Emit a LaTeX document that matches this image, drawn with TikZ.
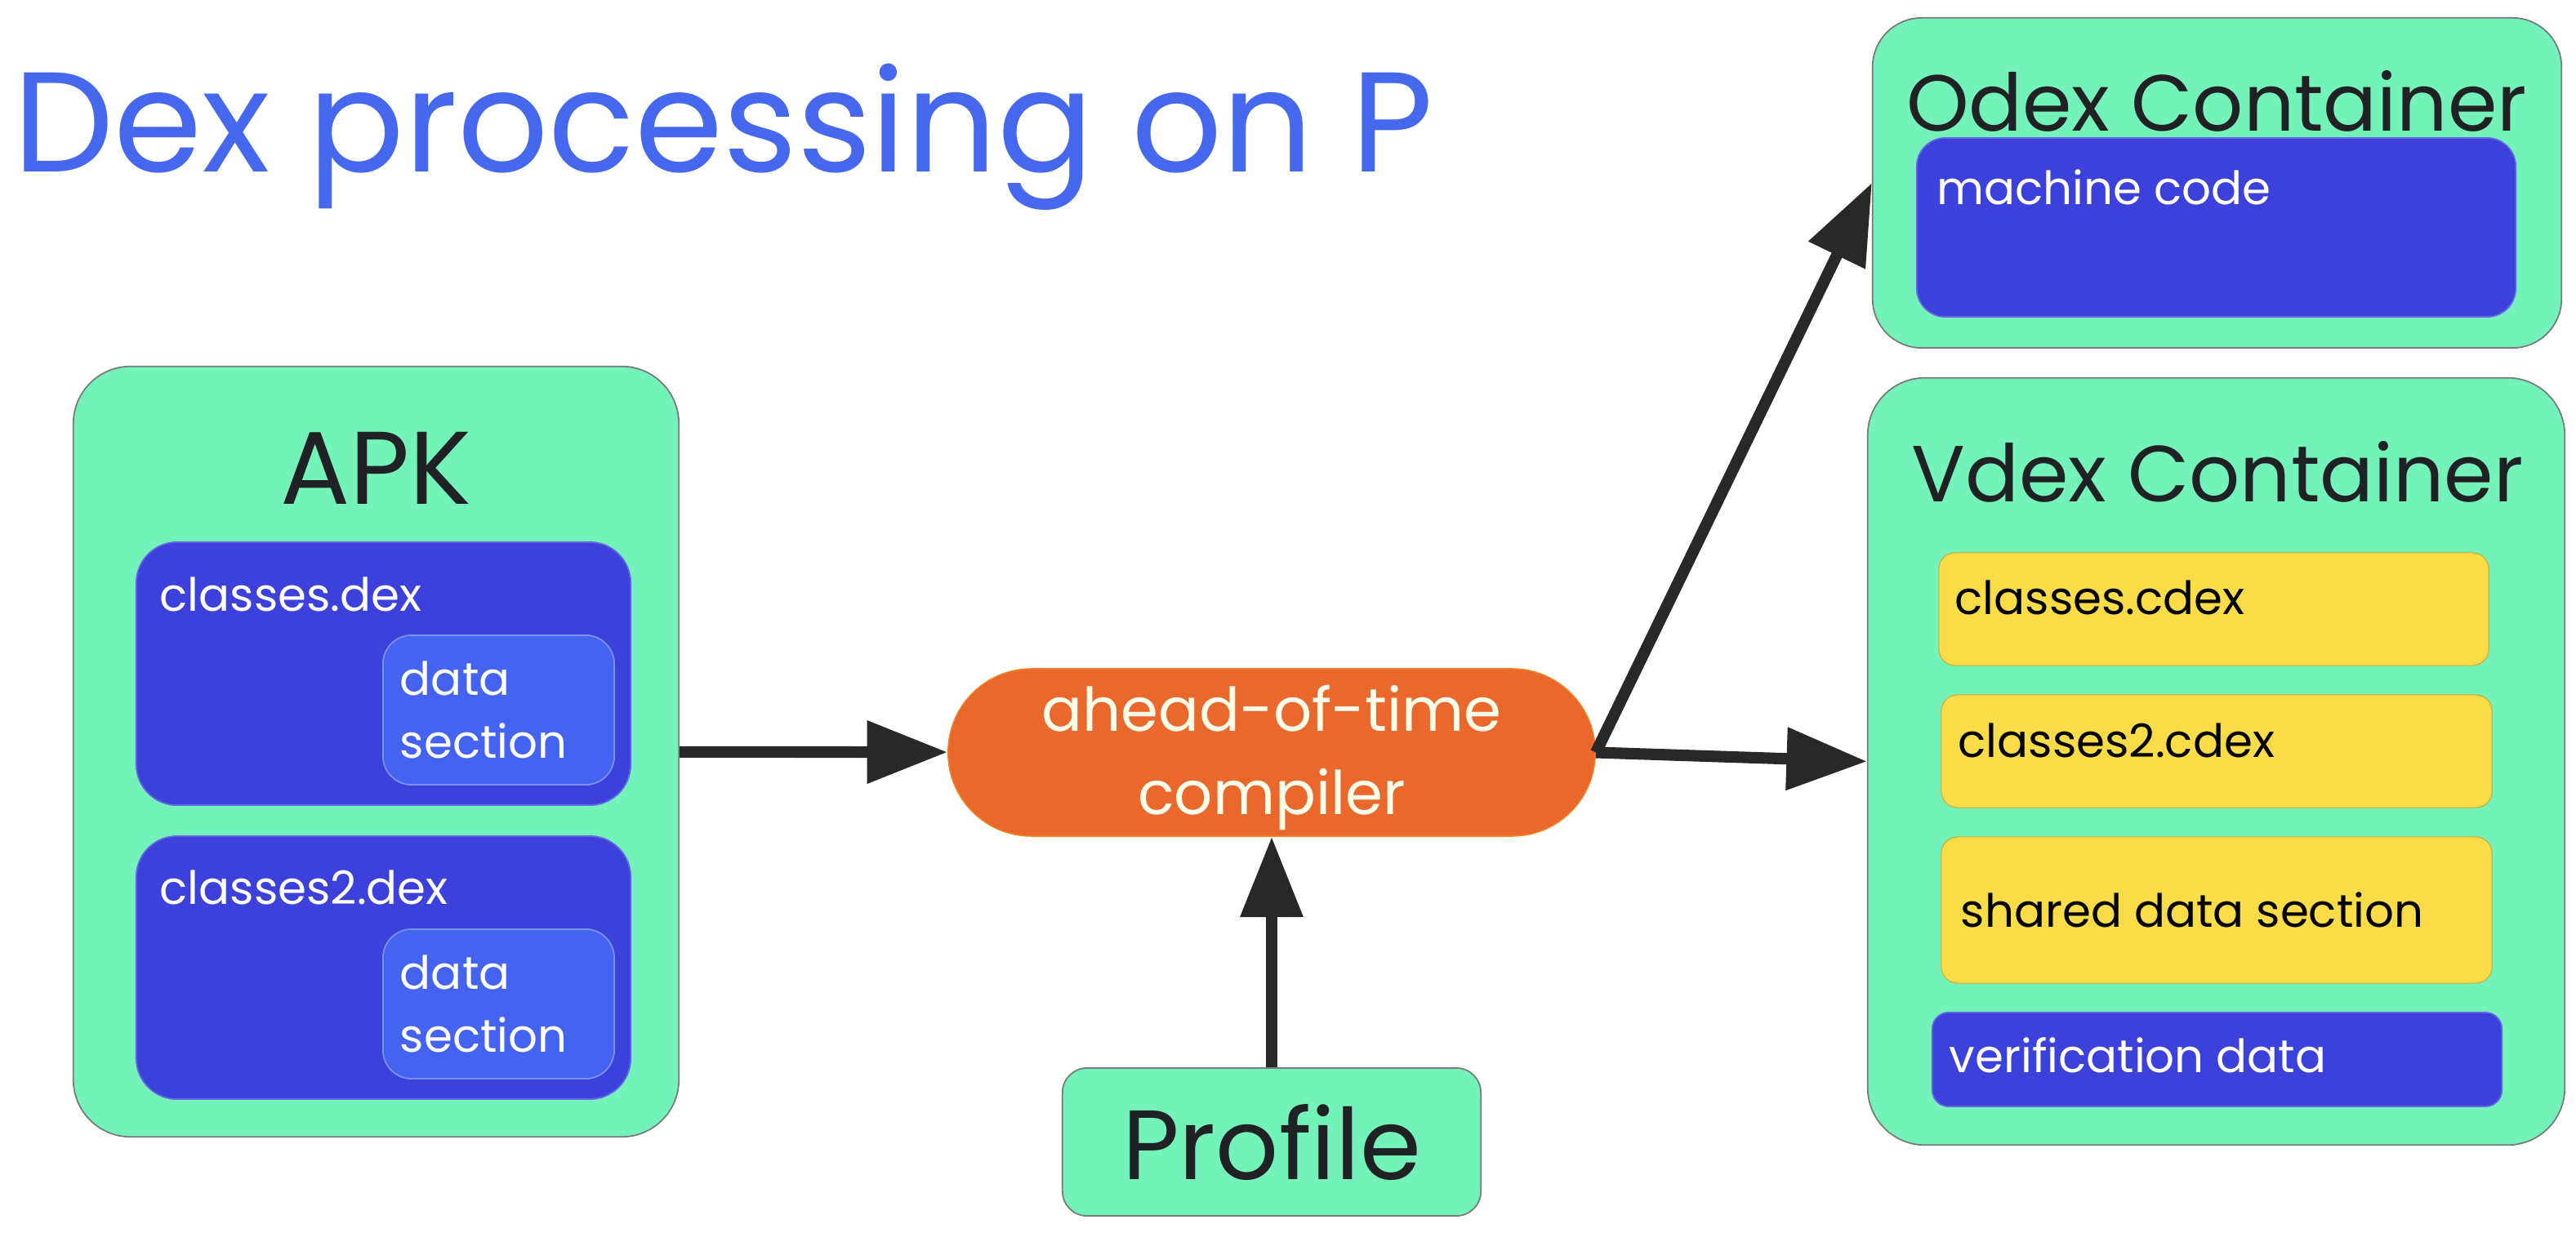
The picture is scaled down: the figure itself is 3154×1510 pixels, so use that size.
\documentclass[tikz,border=0pt]{standalone}
\usepackage{fontspec}
\setmainfont{Poppins}
\usetikzlibrary{positioning, arrows.meta}
\definecolor{MintFill}{RGB}{115,242,185}
\definecolor{DexBlue}{RGB}{61,65,220}
\definecolor{SecBlue}{RGB}{68,99,240}
\definecolor{CdexYellow}{RGB}{250,219,72}
\definecolor{AotOrange}{RGB}{235,104,45}
\definecolor{TitleBlue}{RGB}{70,104,238}
\definecolor{InkGrey}{RGB}{32,33,36}
\definecolor{ArrowGrey}{RGB}{40,40,40}

\begin{document}
\begin{tikzpicture}[
  x=0.01cm, y=-0.01cm,
  containerbox/.style={draw=InkGrey!60, line width=0.5pt, fill=MintFill, rounded corners=0.7cm, inner sep=0pt},
  dexbox/.style={draw=DexBlue!80!white, line width=0.5pt, fill=DexBlue, rounded corners=0.5cm, inner sep=0pt},
  secbox/.style={draw=SecBlue!70!white, line width=0.5pt, fill=SecBlue, rounded corners=0.35cm, inner xsep=0.21cm, inner ysep=0pt, text=white, align=left, font=\fontsize{16}{21.8}\selectfont},
  cdexbox/.style={draw=CdexYellow!80!black, line width=0.3pt, fill=CdexYellow, rounded corners=0.2cm, inner sep=0pt},
  compbox/.style={fill=AotOrange, draw=AotOrange!80!yellow, rounded corners=1.02cm, inner sep=0pt},
  headtext/.style={text=InkGrey, inner sep=0pt, anchor=base, font=\fontsize{27.7}{34}\selectfont},
  intext/.style={text=white, inner sep=0pt, anchor=base west, font=\fontsize{16}{20}\selectfont},
  cdextext/.style={text=black, inner sep=0pt, anchor=base west, font=\fontsize{16}{20}\selectfont},
  flowarrow/.style={-{Triangle[length=28pt, width=21pt]}, line width=4pt, draw=ArrowGrey}
]
\useasboundingbox[fill=white] (0,0) rectangle (3154,1510);

\node[text=TitleBlue, inner sep=0pt, anchor=base west, font=\fontsize{49.5}{56}\selectfont] (title) at (16,211) {Dex processing on P};

% APK with its two dex files
\node[containerbox, minimum width=7.41cm, minimum height=9.43cm] (apk) at (460.5,920.5) {};
\node[headtext, font=\fontsize{36}{40}\selectfont] (apktitle) at (460.5,618) {APK};
\node[dexbox, minimum width=6.05cm, minimum height=3.22cm] (dexone) at (469.5,825) {};
\node[intext] (dexonetext) at (195,749) {classes.dex};
\node[secbox, text width=2.41cm, minimum height=1.83cm] (secone) at (610.5,869.5) {data\\section};
\node[dexbox, minimum width=6.05cm, minimum height=3.22cm] (dextwo) at (469.5,1185) {};
\node[intext] (dextwotext) at (195,1107) {classes2.dex};
\node[secbox, text width=2.41cm, minimum height=1.83cm] (sectwo) at (610.5,1229.5) {data\\section};

% compiler and profile
\node[compbox, minimum width=7.92cm, minimum height=2.05cm] (aot) at (1557,921.5) {};
\node[text=yellow!8!white, inner sep=0pt, align=center, font=\fontsize{21}{29.2}\selectfont] (aottext) at (1557,928) {ahead-of-time\\compiler};
\node[containerbox, rounded corners=0.3cm, minimum width=5.12cm, minimum height=1.81cm, text=InkGrey, font=\fontsize{34.3}{38}\selectfont] (profile) at (1557,1398.5) {Profile};

% odex output
\node[containerbox, rounded corners=0.6cm, minimum width=8.43cm, minimum height=4.04cm] (odex) at (2714.5,224) {};
\node[headtext] (odextitle) at (2714,161) {Odex Container};
\node[dexbox, rounded corners=0.35cm, minimum width=7.33cm, minimum height=2.19cm] (mcode) at (2713.5,278.5) {};
\node[intext] (mcodetext) at (2371,251) {machine code};

% vdex output
\node[containerbox, minimum width=8.53cm, minimum height=9.39cm] (vdex) at (2713.5,932.5) {};
\node[headtext] (vdextitle) at (2715,615) {Vdex Container};
\node[cdexbox, minimum width=6.73cm, minimum height=1.38cm] (cdexone) at (2710.5,746) {};
\node[cdextext] (cdexonetext) at (2393,753) {classes.cdex};
\node[cdexbox, minimum width=6.74cm, minimum height=1.38cm] (cdextwo) at (2714,920) {};
\node[cdextext] (cdextwotext) at (2397,928) {classes2.cdex};
\node[cdexbox, minimum width=6.74cm, minimum height=1.79cm] (shared) at (2714,1114.5) {};
\node[cdextext] (sharedtext) at (2400,1136) {shared data section};
\node[dexbox, rounded corners=0.2cm, minimum width=6.97cm, minimum height=1.15cm] (verif) at (2714.5,1297.5) {};
\node[intext] (veriftext) at (2386,1313) {verification data};

\draw[flowarrow] (apk) -- (aot);
\draw[flowarrow] (profile) -- (aot);
\draw[flowarrow] (aot.east) -- (odex.west);
\draw[flowarrow] (aot.east) -- (vdex.west);
\end{tikzpicture}
\end{document}
